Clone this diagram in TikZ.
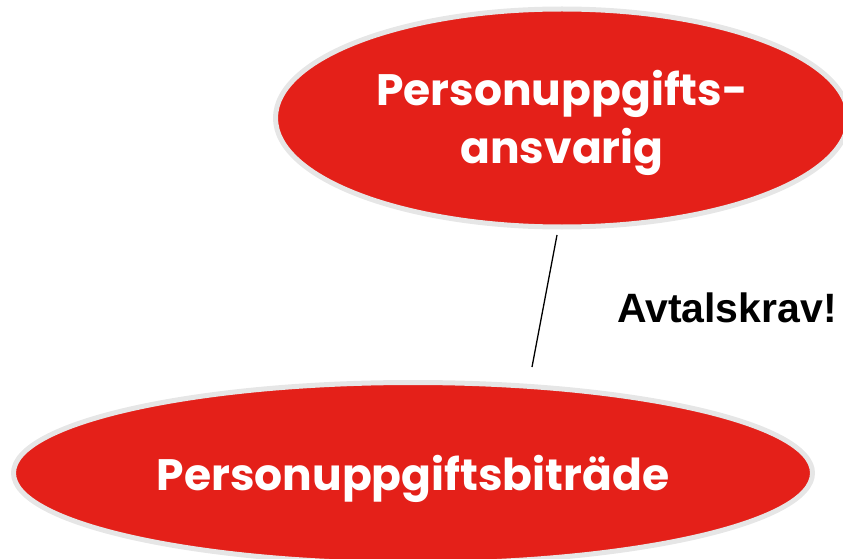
\documentclass[tikz,border=0pt]{standalone}
\usepackage{fontspec}
\usetikzlibrary{shapes.geometric}
\newfontfamily\gothic{Poppins}
\newfontfamily\arialb{Liberation Sans}
\definecolor{ovalred}{HTML}{E42019}
\definecolor{ovalrim}{HTML}{E6E6E6}
\tikzset{
  oval/.style={ellipse, fill=ovalred, draw=ovalrim, line width=5pt, inner sep=0pt,
    text=white, align=center, font=\gothic\bfseries\fontsize{44}{58}\selectfont},
  link/.style={draw=black, line width=1.3pt},
  note/.style={font=\arialb\bfseries\fontsize{41}{48}\selectfont, inner sep=0pt}
}
\begin{document}
\begin{tikzpicture}[x=1pt,y=-1pt]
\useasboundingbox (0,0) rectangle (843,559);
\node[oval, minimum width=573pt, minimum height=218pt] (top) at (562,118)
  {\raisebox{-5pt}[\height][\depth]{\begin{tabular}{@{}c@{}}Personuppgifts-\\ansvarig\end{tabular}}};
\node[oval, minimum width=799pt, minimum height=181pt] (bot) at (413,473)
  {\raisebox{-6pt}[\height][\depth]{Personuppgiftsbiträde}};
\coordinate (c1) at (557,235);
\coordinate (c2) at (532,367);
\draw[link] (c1) -- (c2);
\node[note, anchor=base west] (krav) at (617,322) {Avtalskrav!};
\end{tikzpicture}
\end{document}
